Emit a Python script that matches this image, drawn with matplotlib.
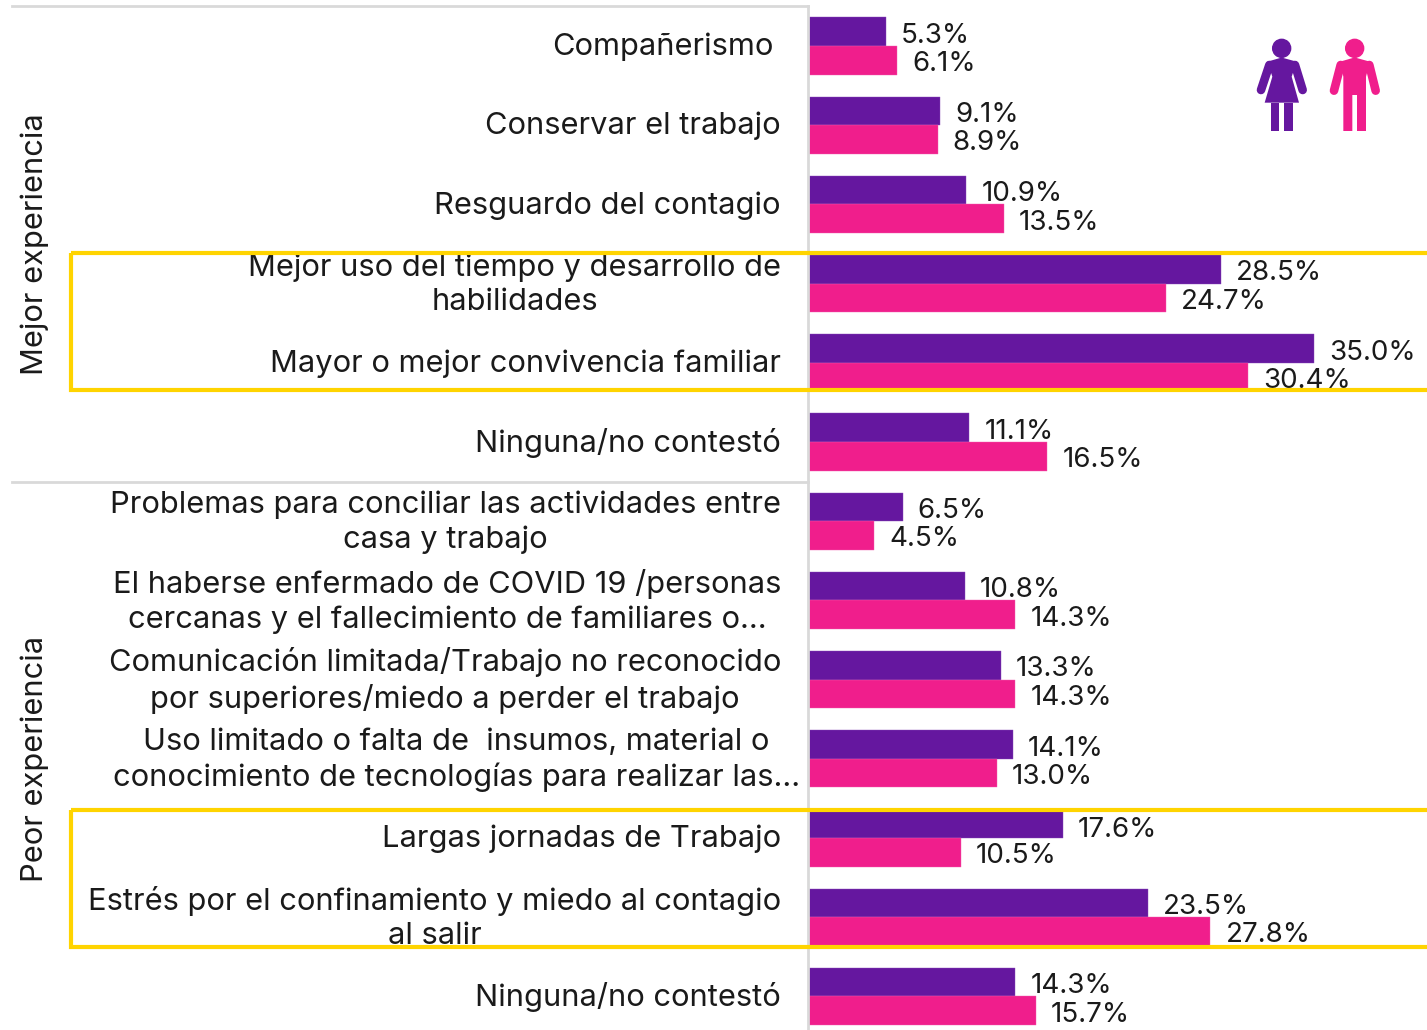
import matplotlib
matplotlib.use("Agg")
import matplotlib.pyplot as plt
from matplotlib.patches import Circle, Polygon, Rectangle

plt.rcParams['font.family'] = ['Inter', 'DejaVu Sans']

categorias = [
    "Compañerismo",
    "Conservar el trabajo",
    "Resguardo del contagio",
    "Mejor uso del tiempo y desarrollo de\nhabilidades",
    "Mayor o mejor convivencia familiar",
    "Ninguna/no contestó",
    "Problemas para conciliar las actividades entre\ncasa y trabajo",
    "El haberse enfermado de COVID 19 /personas\ncercanas y el fallecimiento de familiares o...",
    "Comunicación limitada/Trabajo no reconocido\npor superiores/miedo a perder el trabajo",
    "Uso limitado o falta de  insumos, material o\nconocimiento de tecnologías para realizar las...",
    "Largas jornadas de Trabajo",
    "Estrés por el confinamiento y miedo al contagio\nal salir",
    "Ninguna/no contestó",
]
mujeres = [5.3, 9.1, 10.9, 28.5, 35.0, 11.1, 6.5, 10.8, 13.3, 14.1, 17.6, 23.5, 14.3]
hombres = [6.1, 8.9, 13.5, 24.7, 30.4, 16.5, 4.5, 14.3, 14.3, 13.0, 10.5, 27.8, 15.7]

MORADO = "#65179F"
ROSA = "#F01E8C"
AMARILLO = "#FFD400"
GRIS = "#D9D9D9"
TEXTO = "#1A1A1A"
FS_CAT = 22.2
FS_VAL = 20

W, H = 1427, 1030
fig = plt.figure(figsize=(W / 100, H / 100), dpi=100)

# main axes: x=0 sits at the vertical line, 1 row = 79.2 px
ax = fig.add_axes([809 / W, 0, 1 - 809 / W, 1])
ax.set_xlim(0, (W - 809) / 14.44)
ax.set_ylim((H - 46) / 79.2, -46 / 79.2)
ax.axis("off")

# labels that don't follow the common right edge
label_dx = {0: 8, 9: -19}

for i, cat in enumerate(categorias):
    ax.barh(i - 0.18, mujeres[i], height=0.36, color=MORADO, edgecolor="#8A4BB8", lw=0.3)
    ax.barh(i + 0.18, hombres[i], height=0.36, color=ROSA, edgecolor="#F45DAE", lw=0.3)
    # the purple bar of row 10 is cut by the frame, its label sits lower
    dy = -6 if i == 10 else -4
    ax.annotate(f"{mujeres[i]:.1f}%", (mujeres[i], i - 0.18), xytext=(15, dy), textcoords="offset pixels",
                ha="left", va="center", fontsize=FS_VAL, color=TEXTO)
    ax.annotate(f"{hombres[i]:.1f}%", (hombres[i], i + 0.18), xytext=(15, -4), textcoords="offset pixels",
                ha="left", va="center", fontsize=FS_VAL, color=TEXTO)
    ax.annotate(cat, (0, i), xytext=(-28 - label_dx.get(i, 0), -1), textcoords="offset pixels",
                ha="right", va="center", multialignment="center", fontsize=FS_CAT, color=TEXTO,
                linespacing=1.29, annotation_clip=False)

# overlay in pixel coords for frames, rules and icons
ov = fig.add_axes([0, 0, 1, 1])
ov.set_xlim(0, W)
ov.set_ylim(H, 0)
ov.axis("off")
ov.patch.set_alpha(0)

ov.plot([808, 808], [6, H], color=GRIS, lw=2)
ov.plot([12, 808], [6, 6], color=GRIS, lw=2)
ov.plot([12, 808], [481.5, 481.5], color=GRIS, lw=2)

for top, bottom in [(253, 390), (810, 947)]:
    ov.add_patch(Rectangle((70.5, top), 1400, bottom - top, fill=False, ec=AMARILLO, lw=3, zorder=10))

ov.text(35, 244, "Mejor experiencia", rotation=90, ha="center", va="center", fontsize=FS_CAT, color=TEXTO)
ov.text(35, 759, "Peor experiencia", rotation=90, ha="center", va="center", fontsize=FS_CAT, color=TEXTO)


# icons, points taken from a 3x crop starting at (1230, 20)
def px(p):
    return (1230 + p[0] / 3, 20 + p[1] / 3)


def brazo(a, b, color):
    xa, ya = px(a)
    xb, yb = px(b)
    ov.plot([xa, xb], [ya, yb], color=color, lw=6.2, solid_capstyle="round")


# woman
ov.add_patch(Circle(px((155, 85)), 9, color=MORADO))
ov.add_patch(Polygon([px(p) for p in [(112, 125), (150, 114), (160, 114), (200, 125), (185, 170), (207, 248),
                                      (104, 248), (127, 170)]], color=MORADO, lw=0))
ov.add_patch(Polygon([px(p) for p in [(122, 248), (148, 248), (148, 333), (122, 333)]], color=MORADO, lw=0))
ov.add_patch(Polygon([px(p) for p in [(163, 248), (190, 248), (190, 333), (163, 333)]], color=MORADO, lw=0))
brazo((118, 135), (93, 210), MORADO)
brazo((195, 135), (218, 210), MORADO)

# man
ov.add_patch(Circle(px((374, 85)), 9, color=ROSA))
ov.add_patch(Polygon([px(p) for p in [(330, 125), (368, 114), (380, 114), (420, 125), (408, 170), (408, 333),
                                      (381, 333), (381, 225), (367, 225), (367, 333), (340, 333), (340, 170)]],
                     color=ROSA, lw=0))
brazo((332, 135), (312, 212), ROSA)
brazo((418, 135), (437, 212), ROSA)

fig.savefig("out.png", dpi=100)
